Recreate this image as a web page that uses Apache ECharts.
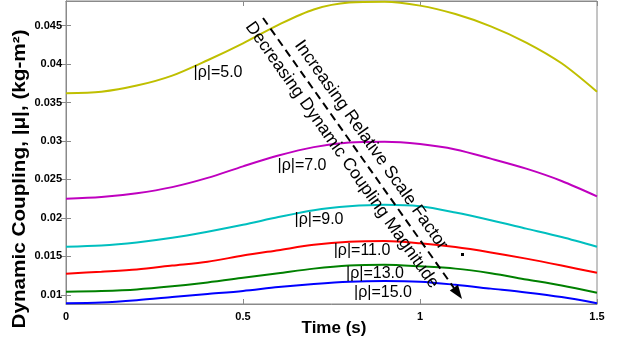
<!DOCTYPE html>
<html>
<head>
<meta charset="utf-8">
<script src="https://cdn.jsdelivr.net/npm/echarts@6/dist/echarts.min.js"></script>
<style>
html,body{margin:0;padding:0;background:#fff;}
#main{width:618px;height:346px;}
</style>
</head>
<body>
<div id="main"></div>
<script>
// time samples (s)
var times = [0, 0.1, 0.2, 0.3, 0.4, 0.5, 0.6, 0.7, 0.8, 0.9, 1.0, 1.1, 1.2, 1.3, 1.4, 1.5];
// dynamic coupling for each |rho|
var rho5  = [0.0362, 0.0364, 0.0372, 0.0385, 0.0405, 0.0427, 0.0451, 0.0471, 0.0480, 0.0481, 0.0476, 0.0465, 0.0449, 0.0428, 0.0401, 0.0364];
var rho7  = [0.0225, 0.0227, 0.0232, 0.0240, 0.0252, 0.0267, 0.0281, 0.0292, 0.0298, 0.0299, 0.0296, 0.0289, 0.0277, 0.0264, 0.0248, 0.0228];
var rho9  = [0.01625, 0.0164, 0.0168, 0.0174, 0.0182, 0.0191, 0.0201, 0.0210, 0.0215, 0.0217, 0.0215, 0.0207, 0.0197, 0.0186, 0.0175, 0.01625];
var rho11 = [0.01273, 0.0130, 0.0133, 0.0138, 0.0143, 0.0151, 0.0158, 0.0165, 0.0169, 0.0170, 0.0167, 0.0162, 0.0155, 0.0147, 0.0138, 0.01285];
var rho13 = [0.0104, 0.0105, 0.0107, 0.0111, 0.0116, 0.0122, 0.0128, 0.0134, 0.0138, 0.0139, 0.0137, 0.0134, 0.0128, 0.0120, 0.0112, 0.01026];
var rho15 = [0.0089, 0.0090, 0.0093, 0.0097, 0.0101, 0.0105, 0.0110, 0.0114, 0.0117, 0.0118, 0.0117, 0.0113, 0.0108, 0.0103, 0.0097, 0.0089];
var yTicks = [0.01, 0.015, 0.02, 0.025, 0.03, 0.035, 0.04, 0.045];
var curveNames = ['|ρ|=5.0', '|ρ|=7.0', '|ρ|=9.0', '|ρ|=11.0', '|ρ|=13.0', '|ρ|=15.0'];

var FONT = 'Arial, "Liberation Sans", sans-serif';
var chart = echarts.init(document.getElementById('main'));

function pairs(ys){
	var out = [];
	for(var i=0;i<times.length;i++){ out.push([times[i], ys[i]]); }
	return out;
}
function curve(name, ys, color){
	return {
		name: name,
		type: 'line',
		data: pairs(ys),
		smooth: 0.3,
		symbol: 'none',
		lineStyle: {color: color, width: 2},
		itemStyle: {color: color}
	};
}
// rotated label helper
function label(txt, x, y, rot, size, weight, sx){
	return {
		type: 'text', x: x, y: y, rotation: rot || 0, scaleX: sx || 1, z: 100,
		style: {text: txt, fill: '#000', font: (weight || 'normal') + ' ' + (size || 16) + 'px ' + FONT,
			align: 'center', verticalAlign: 'middle'}
	};
}

var axisGray = '#8a8a8a';
var ang = -Math.atan2(281, 199);  // arrow direction

var option = {
	backgroundColor: '#fff',
	animation: false,
	grid: {left: 66, right: 21, top: 1, bottom: 42, show: true, borderColor: axisGray, borderWidth: 1},
	xAxis: [{
		type: 'value', min: 0, max: 1.5, interval: 0.5,
		axisLine: {lineStyle: {color: axisGray}},
		axisTick: {inside: true, length: 5, lineStyle: {color: axisGray}},
		axisLabel: {color: '#000', fontWeight: 'bold', fontSize: 11, fontFamily: FONT, margin: 7},
		splitLine: {show: false}
	}, {
		type: 'value', min: 0, max: 1.5, interval: 0.5, position: 'top',
		axisLine: {lineStyle: {color: axisGray}},
		axisTick: {inside: true, length: 5, lineStyle: {color: axisGray}},
		axisLabel: {show: false},
		splitLine: {show: false}
	}],
	yAxis: [{
		type: 'value', min: 0.0088, max: 0.0482,
		axisLine: {show: true, lineStyle: {color: axisGray}},
		axisTick: {show: true, inside: true, length: 5, customValues: yTicks, lineStyle: {color: axisGray}},
		axisLabel: {color: '#000', fontWeight: 'bold', fontSize: 11, fontFamily: FONT, margin: 4, customValues: yTicks},
		splitLine: {show: false}
	}, {
		type: 'value', min: 0.0088, max: 0.0482, position: 'right',
		axisLine: {show: true, lineStyle: {color: axisGray}},
		axisTick: {show: true, inside: true, length: 5, customValues: yTicks, lineStyle: {color: axisGray}},
		axisLabel: {show: false, customValues: yTicks},
		splitLine: {show: false}
	}],
	series: [
		curve(curveNames[0], rho5, '#bfbf00'),
		curve(curveNames[1], rho7, '#bf00bf'),
		curve(curveNames[2], rho9, '#00bfbf'),
		curve(curveNames[3], rho11, '#ff0000'),
		curve(curveNames[4], rho13, '#008000'),
		curve(curveNames[5], rho15, '#0000ff')
	],
	graphic: [
		label('Dynamic Coupling, |μ|, (kg-m²)', 20, 179, Math.PI / 2, 18, 'bold', 1.15),
		label('Time (s)', 334, 328, 0, 17, 'bold'),
		label(curveNames[0], 218, 73),
		label(curveNames[1], 302, 166),
		label(curveNames[2], 319, 220),
		label(curveNames[3], 362, 251),
		label(curveNames[4], 375, 274),
		label(curveNames[5], 383, 293),
		label('Increasing Relative Scale Factor', 371, 145, ang, 17.5),
		label('Decreasing Dynamic Coupling Magnitude', 342, 155, ang, 17.5),
		{
			type: 'line', z: 100,
			shape: {x1: 263, y1: 18, x2: 454, y2: 288},
			style: {stroke: '#000', lineWidth: 2, lineDash: [8, 5]}
		},
		{
			type: 'polygon', z: 100,
			shape: {points: [[462, 299], [458, 284.7], [449.8, 290.5]]},
			style: {fill: '#000'}
		},
		{type: 'rect', z: 100, shape: {x: 461, y: 253, width: 3, height: 3}, style: {fill: '#000'}}
	]
};
chart.setOption(option);
</script>
</body>
</html>
